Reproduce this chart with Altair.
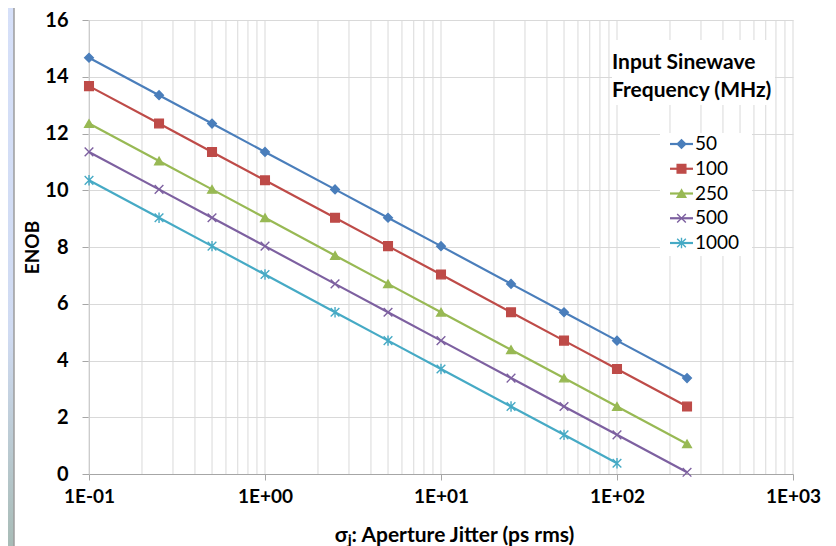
import altair as alt
import pandas as pd

# ---- data ----
jitter_ps = [0.1, 0.25, 0.5, 1, 2.5, 5, 10, 25, 50, 100, 250]
series_names = ["50", "100", "250", "500", "1000"]
enob_50 = [14.67, 13.35, 12.35, 11.35, 10.03, 9.03, 8.03, 6.70, 5.70, 4.70, 3.38]
enob_100 = [13.67, 12.35, 11.35, 10.35, 9.03, 8.03, 7.03, 5.70, 4.70, 3.70, 2.38]
enob_250 = [12.35, 11.03, 10.03, 9.03, 7.70, 6.70, 5.70, 4.38, 3.38, 2.38, 1.06]
enob_500 = [11.35, 10.03, 9.03, 8.03, 6.70, 5.70, 4.70, 3.38, 2.38, 1.38, 0.06]
enob_1000 = [10.35, 9.03, 8.03, 7.03, 5.70, 4.70, 3.70, 2.38, 1.38, 0.38]

series_colors = ["#4a7ebb", "#be4b48", "#98b954", "#7d60a0", "#46aac5"]
series_shapes = [
    "diamond",
    "square",
    "triangle-up",
    "M-1,-1L1,1M-1,1L1,-1",
    "M-1,-1L1,1M-1,1L1,-1M0,-1.2L0,1.2",
]
series_sizes = [75, 75, 85, 70, 70]

y_ticks = [0, 2, 4, 6, 8, 10, 12, 14, 16]
x_ticks = [0.1, 1, 10, 100, 1000]
x_tick_labels = ["1E-01", "1E+00", "1E+01", "1E+02", "1E+03"]
x_grid = [0.1, 0.2, 0.3, 0.4, 0.5, 0.6, 0.7, 0.8, 0.9,
          1, 2, 3, 4, 5, 6, 7, 8, 9,
          10, 20, 30, 40, 50, 60, 70, 80, 90,
          100, 200, 300, 400, 500, 600, 700, 800, 900, 1000]

legend_title_lines = ["Input Sinewave", "Frequency (MHz)"]
x_title = "σⱼ: Aperture Jitter (ps rms)"
y_title = "ENOB"

rows = []
for name, vals in zip(series_names, [enob_50, enob_100, enob_250, enob_500, enob_1000]):
    for xv, yv in zip(jitter_ps, vals):
        rows.append({"series": name, "jitter": xv, "enob": yv})
df = pd.DataFrame(rows)
df_grid = pd.DataFrame({"g": x_grid})
df_leg = pd.DataFrame({"series": series_names})
one = alt.Data(values=[{}])

FONT = "Lato"
W, H = 704, 454

color_scale = alt.Scale(domain=series_names, range=series_colors)
shape_scale = alt.Scale(domain=series_names, range=series_shapes)
size_scale = alt.Scale(domain=series_names, range=series_sizes)
xs = alt.Scale(type="log", domain=[0.1, 1000], nice=False)
ys = alt.Scale(domain=[0, 16], nice=False)

label_expr = "{}[indexof({}, datum.value)]".format(
    "[" + ",".join("'%s'" % s for s in x_tick_labels) + "]",
    "[" + ",".join(str(v) for v in x_ticks) + "]",
)

x_axis = alt.Axis(
    values=x_ticks, labelExpr=label_expr, grid=False,
    tickSize=6, tickColor="#a6a6a6", domainColor="#a6a6a6",
    labelFont=FONT, labelFontSize=19, labelFontWeight="bold", labelColor="#000",
    labelBaseline="alphabetic", labelPadding=22, labelFlush=False, labelOverlap=False,
    title=x_title, titleFont=FONT, titleFontSize=21, titleFontWeight="bold",
    titleColor="#000", titleX=365, titleY=67, titleBaseline="alphabetic",
)
y_axis = alt.Axis(
    values=y_ticks, grid=True, gridColor="#d9d9d9",
    tickSize=7, tickColor="#a6a6a6", domainColor="#bfbfbf",
    labelFont=FONT, labelFontSize=20, labelFontWeight="bold", labelColor="#000",
    labelPadding=14,
    title=y_title, titleFont=FONT, titleFontSize=19, titleFontWeight="bold",
    titleColor="#000", titleX=-57, titleY=227, titleAlign="center", titleBaseline="middle",
)

band = alt.Chart(one).mark_rect(
    color=alt.Gradient(
        gradient="linear",
        stops=[alt.GradientStop(color="#d6e0f9", offset=0),
               alt.GradientStop(color="#d0dbf2", offset=0.6),
               alt.GradientStop(color="#a7bbb5", offset=1)],
        x1=0, x2=0, y1=0, y2=1,
    )
).encode(x=alt.value(-81), x2=alt.value(-75), y=alt.value(-12), y2=alt.value(530))

border = alt.Chart(one).mark_rule(color="#9c9c9c", strokeWidth=1.5).encode(
    x=alt.value(-75), y=alt.value(-12), y2=alt.value(530))

vgrid = alt.Chart(df_grid).mark_rule(color="#d9d9d9", strokeWidth=1).encode(
    x=alt.X("g:Q", scale=xs, axis=x_axis), y=alt.value(0), y2=alt.value(H))

title_box = alt.Chart(one).mark_rect(color="white").encode(
    x=alt.value(523), x2=alt.value(686), y=alt.value(20), y2=alt.value(85))
title_text = alt.Chart(one).mark_text(
    align="left", baseline="alphabetic", font=FONT, fontSize=21, fontWeight="bold",
    color="#000", lineHeight=28,
).encode(x=alt.value(523), y=alt.value(49), text=alt.value(legend_title_lines))

leg_box = alt.Chart(one).mark_rect(color="white").encode(
    x=alt.value(571), x2=alt.value(663), y=alt.value(113), y2=alt.value(236))

lines = alt.Chart(df).mark_line(strokeWidth=2.2).encode(
    x=alt.X("jitter:Q", scale=xs, axis=x_axis),
    y=alt.Y("enob:Q", scale=ys, axis=y_axis),
    color=alt.Color("series:N", scale=color_scale, legend=None),
)
points = alt.Chart(df).mark_point(filled=True, opacity=1, strokeWidth=1.4).encode(
    x=alt.X("jitter:Q", scale=xs),
    y=alt.Y("enob:Q", scale=ys),
    color=alt.Color("series:N", scale=color_scale, legend=None),
    stroke=alt.Stroke("series:N", scale=color_scale, legend=None),
    shape=alt.Shape("series:N", scale=shape_scale, legend=None),
    size=alt.Size("series:N", scale=size_scale, legend=None),
)

main = alt.layer(band, border, vgrid, title_box, title_text, leg_box, lines, points)

leg_y = alt.Y("series:N", sort=series_names,
              scale=alt.Scale(type="point", domain=series_names, range=[124, 223], padding=0),
              axis=None)
leg_rule = alt.Chart(df_leg).mark_rule(strokeWidth=2.2).encode(
    x=alt.value(581), x2=alt.value(604), y=leg_y,
    color=alt.Color("series:N", scale=color_scale, legend=None))
leg_pts = alt.Chart(df_leg).mark_point(filled=True, opacity=1, strokeWidth=1.4).encode(
    x=alt.value(592.5), y=leg_y,
    color=alt.Color("series:N", scale=color_scale, legend=None),
    stroke=alt.Stroke("series:N", scale=color_scale, legend=None),
    shape=alt.Shape("series:N", scale=shape_scale, legend=None),
    size=alt.Size("series:N", scale=size_scale, legend=None))
leg_txt = alt.Chart(df_leg).mark_text(
    align="left", baseline="middle", font=FONT, fontSize=19, color="#000").encode(
    x=alt.value(606), y=leg_y, text="series:N")

legend = alt.layer(leg_rule, leg_pts, leg_txt)

chart = alt.layer(main, legend).resolve_scale(y="independent").properties(
    width=W, height=H, autosize="none",
    padding={"left": 81, "top": 12, "right": 35, "bottom": 72},
).configure(background="white").configure_view(stroke=None)

chart.save("out.html", embed_options={"renderer": "svg", "actions": False})
